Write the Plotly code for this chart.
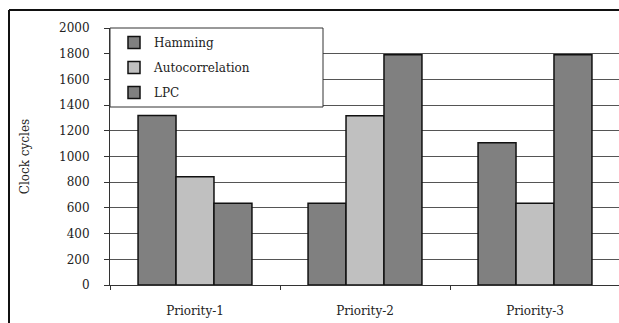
import plotly.graph_objects as go

categories = ["Priority-1", "Priority-2", "Priority-3"]
hamming = [1320, 636, 1107]
autocorrelation = [843, 1318, 636]
lpc = [636, 1792, 1792]
series_names = ["Hamming", "Autocorrelation", "LPC"]
series_colors = ["#808080", "#c0c0c0", "#808080"]
y_ticks = [0, 200, 400, 600, 800, 1000, 1200, 1400, 1600, 1800, 2000]

W, H = 619, 323
L, T = 110, 28
B = H - 285
R = 0
pw, ph = W - L - R, H - T - B

def px2x(x):
    return (x - L) / pw

def px2y(y):
    return (H - B - y) / ph

font_family = "DejaVu Serif"

fig = go.Figure()
for name, vals, col in zip(series_names, [hamming, autocorrelation, lpc], series_colors):
    fig.add_trace(go.Bar(
        x=categories, y=vals, name=name, legendgroup=name,
        marker=dict(color=col, line=dict(color="#111111", width=1.5)),
    ))

fig.update_layout(
    width=W, height=H,
    margin=dict(l=L, r=R, t=T, b=B, autoexpand=False),
    paper_bgcolor="white", plot_bgcolor="white",
    barmode="group", bargap=0.33, bargroupgap=0,
    font=dict(family=font_family, size=12, color="#222222"),
    showlegend=True,
    legend=dict(x=px2x(114), y=1.0, xanchor="left", yanchor="top",
                bgcolor="rgba(0,0,0,0)", borderwidth=0,
                tracegroupgap=6, font=dict(family=font_family, size=12, color="#222222")),
    shapes=[
        dict(type="line", xref="paper", yref="paper",
             x0=px2x(9), x1=px2x(9), y0=-0.3, y1=px2y(10),
             line=dict(color="#111111", width=2), layer="above"),
        dict(type="line", xref="paper", yref="paper",
             x0=px2x(9), x1=1.2, y0=px2y(10), y1=px2y(10),
             line=dict(color="#111111", width=2), layer="above"),
        dict(type="rect", xref="paper", yref="paper",
             x0=0, x1=px2x(323), y0=px2y(107), y1=1.0,
             line=dict(color="#333333", width=1), fillcolor="white", layer="above"),
    ],
)

fig.update_xaxes(
    type="category", range=[-0.5, -0.5 + pw / 170.0],
    showline=True, linecolor="#333333", linewidth=1,
    ticks="outside", tickson="boundaries", ticklen=4, tickcolor="#333333",
    showgrid=False, ticklabelstandoff=15,
    tickfont=dict(family=font_family, size=12, color="#222222"),
)
fig.update_yaxes(
    range=[0, 2000], tickvals=y_ticks,
    showline=True, linecolor="#333333", linewidth=1,
    ticks="outside", ticklen=5, tickcolor="#333333",
    showgrid=True, gridcolor="#555555", gridwidth=1, zeroline=False,
    ticklabelstandoff=12,
    tickfont=dict(family=font_family, size=12, color="#222222"),
    title=dict(text="Clock cycles", font=dict(family=font_family, size=12, color="#222222"), standoff=26),
)

fig.write_html(
    "out.html",
    config={"displayModeBar": False},
    post_script="document.body.style.margin='0';document.body.style.overflow='hidden';",
)
